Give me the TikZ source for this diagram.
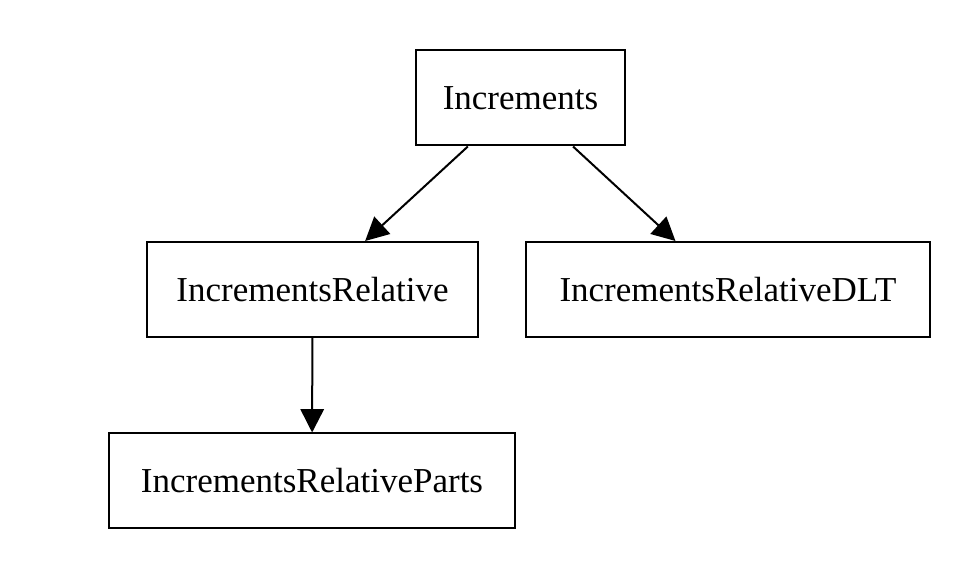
\documentclass[tikz,border=0pt]{standalone}
\usepackage{fontspec}
\setmainfont{Liberation Serif}
\usetikzlibrary{arrows.meta}

\tikzset{
  box/.style={draw, line width=0.6pt, minimum height=28.5pt, inner sep=0pt,
    font=\fontsize{10.5}{12}\selectfont},
  edge/.style={line width=0.6pt, -{Triangle[length=7pt,width=7pt]}}
}

\begin{document}
\begin{tikzpicture}[x=0.3pt,y=-0.3pt]
		\useasboundingbox (0,0) rectangle (977,580);
		% the tree
		\node[box, minimum width=62.7pt] (inc) at (520.5,98) {Increments};
		\node[box, minimum width=99.3pt] (rel) at (312.5,289.5) {IncrementsRelative};
		\node[box, minimum width=121.2pt] (dlt) at (728,289.5) {IncrementsRelativeDLT};
		\node[box, minimum width=121.8pt] (parts) at (312,481) {IncrementsRelativeParts};
		
		\draw[edge] (inc) -- (rel);
		\draw[edge] (inc) -- (dlt);
		\draw[edge] (rel) -- (parts);
	\end{tikzpicture}
\end{document}
